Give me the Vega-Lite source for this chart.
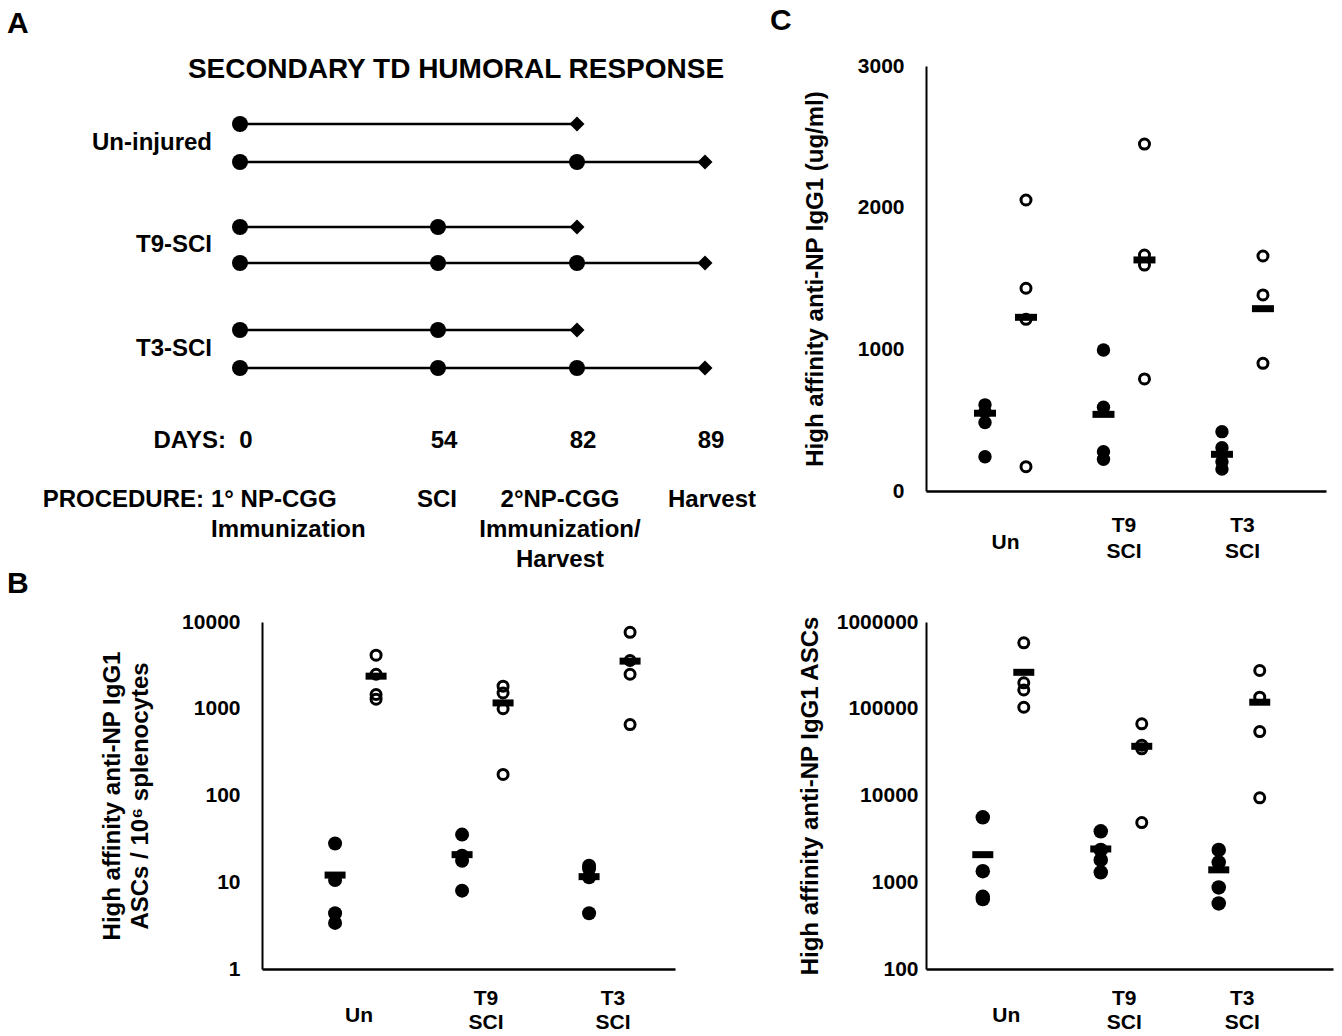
{
  "$schema": "https://vega.github.io/schema/vega-lite/v6.json",
  "background": "white",
  "padding": {"left": 7, "top": 6, "right": 5, "bottom": 5},
  "columns": 2,
  "spacing": {"row": 131, "column": 251},
  "bounds": "flush",
  "align": "each",
  "config": {
    "view": {"stroke": null},
    "font": "Liberation Sans",
    "axis": {"grid": false, "ticks": false, "tickSize": 0, "domainColor": "black", "domainWidth": 2, "labelColor": "black", "labelFont": "Liberation Sans", "labelFontWeight": "bold", "labelFontSize": 21, "titleFont": "Liberation Sans", "titleFontWeight": "bold", "titleFontSize": 24, "titleColor": "black"},
    "title": {"font": "Liberation Sans", "fontWeight": "bold", "fontSize": 30, "color": "black", "anchor": "start", "frame": "group", "baseline": "top"},
    "text": {"font": "Liberation Sans", "fontWeight": "bold", "color": "black"}
  },
  "datasets": {
    "Atrack": [
      {"cohort": "Un-injured", "lane": 1, "day": 0, "event": "1° immunization"},
      {"cohort": "Un-injured", "lane": 1, "day": 82, "event": "Harvest"},
      {"cohort": "Un-injured", "lane": 2, "day": 0, "event": "1° immunization"},
      {"cohort": "Un-injured", "lane": 2, "day": 82, "event": "2° immunization"},
      {"cohort": "Un-injured", "lane": 2, "day": 89, "event": "Harvest"},
      {"cohort": "T9-SCI", "lane": 3, "day": 0, "event": "1° immunization"},
      {"cohort": "T9-SCI", "lane": 3, "day": 54, "event": "SCI"},
      {"cohort": "T9-SCI", "lane": 3, "day": 82, "event": "Harvest"},
      {"cohort": "T9-SCI", "lane": 4, "day": 0, "event": "1° immunization"},
      {"cohort": "T9-SCI", "lane": 4, "day": 54, "event": "SCI"},
      {"cohort": "T9-SCI", "lane": 4, "day": 82, "event": "2° immunization"},
      {"cohort": "T9-SCI", "lane": 4, "day": 89, "event": "Harvest"},
      {"cohort": "T3-SCI", "lane": 5, "day": 0, "event": "1° immunization"},
      {"cohort": "T3-SCI", "lane": 5, "day": 54, "event": "SCI"},
      {"cohort": "T3-SCI", "lane": 5, "day": 82, "event": "Harvest"},
      {"cohort": "T3-SCI", "lane": 6, "day": 0, "event": "1° immunization"},
      {"cohort": "T3-SCI", "lane": 6, "day": 54, "event": "SCI"},
      {"cohort": "T3-SCI", "lane": 6, "day": 82, "event": "2° immunization"},
      {"cohort": "T3-SCI", "lane": 6, "day": 89, "event": "Harvest"}
    ],
    "Atext": [
      {"role": "heading", "text": "SECONDARY TD HUMORAL RESPONSE", "day": 54, "lane": 0},
      {"role": "cohort", "text": "Un-injured", "day": 0, "lane": 1.5},
      {"role": "cohort", "text": "T9-SCI", "day": 0, "lane": 3.5},
      {"role": "cohort", "text": "T3-SCI", "day": 0, "lane": 5.5},
      {"role": "daysTitle", "text": "DAYS:", "day": 0, "lane": 7},
      {"role": "day", "text": "0", "day": 0, "lane": 7},
      {"role": "day", "text": "54", "day": 54, "lane": 7},
      {"role": "day", "text": "82", "day": 82, "lane": 7},
      {"role": "day", "text": "89", "day": 89, "lane": 7},
      {"role": "procTitle", "text": "PROCEDURE:", "day": 0, "lane": 8},
      {"role": "procLeft", "text": "1° NP-CGG\nImmunization", "day": 0, "lane": 8},
      {"role": "procMid", "text": "SCI", "day": 54, "lane": 8},
      {"role": "procBoost", "text": "2°NP-CGG\nImmunization/\nHarvest", "day": 82, "lane": 8},
      {"role": "procEnd", "text": "Harvest", "day": 89, "lane": 8}
    ],
    "Bdata": [
      {"group": "Un", "boost": "pre", "kind": "point", "value": 28},
      {"group": "Un", "boost": "pre", "kind": "point", "value": 10.6},
      {"group": "Un", "boost": "pre", "kind": "point", "value": 4.4},
      {"group": "Un", "boost": "pre", "kind": "point", "value": 3.4},
      {"group": "Un", "boost": "pre", "kind": "mean", "value": 12.1},
      {"group": "Un", "boost": "post", "kind": "point", "value": 4150},
      {"group": "Un", "boost": "post", "kind": "point", "value": 2500},
      {"group": "Un", "boost": "post", "kind": "point", "value": 1460},
      {"group": "Un", "boost": "post", "kind": "point", "value": 1290},
      {"group": "Un", "boost": "post", "kind": "mean", "value": 2375},
      {"group": "T9 SCI", "boost": "pre", "kind": "point", "value": 35.4},
      {"group": "T9 SCI", "boost": "pre", "kind": "point", "value": 20.2},
      {"group": "T9 SCI", "boost": "pre", "kind": "point", "value": 17.7},
      {"group": "T9 SCI", "boost": "pre", "kind": "point", "value": 8.0},
      {"group": "T9 SCI", "boost": "pre", "kind": "mean", "value": 20.8},
      {"group": "T9 SCI", "boost": "post", "kind": "point", "value": 1820},
      {"group": "T9 SCI", "boost": "post", "kind": "point", "value": 1520},
      {"group": "T9 SCI", "boost": "post", "kind": "point", "value": 1000},
      {"group": "T9 SCI", "boost": "post", "kind": "point", "value": 175},
      {"group": "T9 SCI", "boost": "post", "kind": "mean", "value": 1167},
      {"group": "T3 SCI", "boost": "pre", "kind": "point", "value": 15.5},
      {"group": "T3 SCI", "boost": "pre", "kind": "point", "value": 14.3},
      {"group": "T3 SCI", "boost": "pre", "kind": "point", "value": 11.4},
      {"group": "T3 SCI", "boost": "pre", "kind": "point", "value": 4.4},
      {"group": "T3 SCI", "boost": "pre", "kind": "mean", "value": 11.6},
      {"group": "T3 SCI", "boost": "post", "kind": "point", "value": 7600},
      {"group": "T3 SCI", "boost": "post", "kind": "point", "value": 3600},
      {"group": "T3 SCI", "boost": "post", "kind": "point", "value": 2500},
      {"group": "T3 SCI", "boost": "post", "kind": "point", "value": 657},
      {"group": "T3 SCI", "boost": "post", "kind": "mean", "value": 3540}
    ],
    "CTdata": [
      {"group": "Un", "boost": "pre", "kind": "point", "value": 608},
      {"group": "Un", "boost": "pre", "kind": "point", "value": 560},
      {"group": "Un", "boost": "pre", "kind": "point", "value": 483},
      {"group": "Un", "boost": "pre", "kind": "point", "value": 242},
      {"group": "Un", "boost": "pre", "kind": "mean", "value": 549},
      {"group": "Un", "boost": "post", "kind": "point", "value": 2054},
      {"group": "Un", "boost": "post", "kind": "point", "value": 1431},
      {"group": "Un", "boost": "post", "kind": "point", "value": 1212},
      {"group": "Un", "boost": "post", "kind": "point", "value": 172},
      {"group": "Un", "boost": "post", "kind": "mean", "value": 1226},
      {"group": "T9 SCI", "boost": "pre", "kind": "point", "value": 995},
      {"group": "T9 SCI", "boost": "pre", "kind": "point", "value": 591},
      {"group": "T9 SCI", "boost": "pre", "kind": "point", "value": 277},
      {"group": "T9 SCI", "boost": "pre", "kind": "point", "value": 224},
      {"group": "T9 SCI", "boost": "pre", "kind": "mean", "value": 541},
      {"group": "T9 SCI", "boost": "post", "kind": "point", "value": 2449},
      {"group": "T9 SCI", "boost": "post", "kind": "point", "value": 1666},
      {"group": "T9 SCI", "boost": "post", "kind": "point", "value": 1595},
      {"group": "T9 SCI", "boost": "post", "kind": "point", "value": 791},
      {"group": "T9 SCI", "boost": "post", "kind": "mean", "value": 1631},
      {"group": "T3 SCI", "boost": "pre", "kind": "point", "value": 419},
      {"group": "T3 SCI", "boost": "pre", "kind": "point", "value": 306},
      {"group": "T3 SCI", "boost": "pre", "kind": "point", "value": 207},
      {"group": "T3 SCI", "boost": "pre", "kind": "point", "value": 155},
      {"group": "T3 SCI", "boost": "pre", "kind": "mean", "value": 259},
      {"group": "T3 SCI", "boost": "post", "kind": "point", "value": 1659},
      {"group": "T3 SCI", "boost": "post", "kind": "point", "value": 1384},
      {"group": "T3 SCI", "boost": "post", "kind": "point", "value": 901},
      {"group": "T3 SCI", "boost": "post", "kind": "mean", "value": 1287}
    ],
    "CBdata": [
      {"group": "Un", "boost": "pre", "kind": "point", "value": 5610},
      {"group": "Un", "boost": "pre", "kind": "point", "value": 1340},
      {"group": "Un", "boost": "pre", "kind": "point", "value": 680},
      {"group": "Un", "boost": "pre", "kind": "point", "value": 640},
      {"group": "Un", "boost": "pre", "kind": "mean", "value": 2080},
      {"group": "Un", "boost": "post", "kind": "point", "value": 575000},
      {"group": "Un", "boost": "post", "kind": "point", "value": 199000},
      {"group": "Un", "boost": "post", "kind": "point", "value": 165000},
      {"group": "Un", "boost": "post", "kind": "point", "value": 104000},
      {"group": "Un", "boost": "post", "kind": "mean", "value": 263000},
      {"group": "T9 SCI", "boost": "pre", "kind": "point", "value": 3860},
      {"group": "T9 SCI", "boost": "pre", "kind": "point", "value": 2360},
      {"group": "T9 SCI", "boost": "pre", "kind": "point", "value": 1810},
      {"group": "T9 SCI", "boost": "pre", "kind": "point", "value": 1300},
      {"group": "T9 SCI", "boost": "pre", "kind": "mean", "value": 2420},
      {"group": "T9 SCI", "boost": "post", "kind": "point", "value": 67000},
      {"group": "T9 SCI", "boost": "post", "kind": "point", "value": 38000},
      {"group": "T9 SCI", "boost": "post", "kind": "point", "value": 34500},
      {"group": "T9 SCI", "boost": "post", "kind": "point", "value": 4870},
      {"group": "T9 SCI", "boost": "post", "kind": "mean", "value": 36900},
      {"group": "T3 SCI", "boost": "pre", "kind": "point", "value": 2360},
      {"group": "T3 SCI", "boost": "pre", "kind": "point", "value": 1700},
      {"group": "T3 SCI", "boost": "pre", "kind": "point", "value": 870},
      {"group": "T3 SCI", "boost": "pre", "kind": "point", "value": 570},
      {"group": "T3 SCI", "boost": "pre", "kind": "mean", "value": 1390},
      {"group": "T3 SCI", "boost": "post", "kind": "point", "value": 276000},
      {"group": "T3 SCI", "boost": "post", "kind": "point", "value": 136000},
      {"group": "T3 SCI", "boost": "post", "kind": "point", "value": 54600},
      {"group": "T3 SCI", "boost": "post", "kind": "point", "value": 9400},
      {"group": "T3 SCI", "boost": "post", "kind": "mean", "value": 119000}
    ]
  },
  "concat": [
    {
      "width": 386,
      "height": 425,
      "title": {"text": "A", "dx": -255, "offset": 17},
      "encoding": {
        "x": {"field": "day", "type": "quantitative", "scale": {"domain": [0, 54, 82, 89], "range": [-22, 176, 315, 443], "zero": false, "nice": false}, "axis": null},
        "y": {"field": "lane", "type": "quantitative", "scale": {"domain": [0, 1, 2, 3, 4, 5, 6, 7, 8], "range": [12, 58, 96, 161, 197, 264, 302, 382, 441], "zero": false, "nice": false}, "axis": null}
      },
      "layer": [
        {"data": {"name": "Atrack"}, "mark": {"type": "line", "color": "black", "strokeWidth": 2.5}, "encoding": {"detail": {"field": "lane", "type": "nominal"}}},
        {"data": {"name": "Atrack"}, "transform": [{"filter": "datum.event !== 'Harvest'"}], "mark": {"type": "point", "shape": "circle", "filled": true, "color": "black", "opacity": 1, "size": 256}},
        {"data": {"name": "Atrack"}, "transform": [{"filter": "datum.event === 'Harvest'"}], "mark": {"type": "point", "shape": "diamond", "filled": true, "color": "black", "opacity": 1, "size": 225}},
        {"data": {"name": "Atext"}, "transform": [{"filter": "datum.role === 'heading'"}], "mark": {"type": "text", "fontSize": 28, "align": "center", "baseline": "alphabetic", "dx": 18}, "encoding": {"text": {"field": "text"}}},
        {"data": {"name": "Atext"}, "transform": [{"filter": "datum.role === 'cohort'"}], "mark": {"type": "text", "fontSize": 24, "align": "right", "baseline": "middle", "dx": -28}, "encoding": {"text": {"field": "text"}}},
        {"data": {"name": "Atext"}, "transform": [{"filter": "datum.role === 'daysTitle'"}], "mark": {"type": "text", "fontSize": 24, "align": "right", "baseline": "alphabetic", "dx": -14}, "encoding": {"text": {"field": "text"}}},
        {"data": {"name": "Atext"}, "transform": [{"filter": "datum.role === 'day'"}], "mark": {"type": "text", "fontSize": 24, "align": "center", "baseline": "alphabetic", "dx": 6}, "encoding": {"text": {"field": "text"}}},
        {"data": {"name": "Atext"}, "transform": [{"filter": "datum.role === 'procTitle'"}], "mark": {"type": "text", "fontSize": 24, "align": "right", "baseline": "alphabetic", "dx": -36}, "encoding": {"text": {"field": "text"}}},
        {"data": {"name": "Atext"}, "transform": [{"filter": "datum.role === 'procLeft'"}], "mark": {"type": "text", "fontSize": 24, "align": "left", "baseline": "alphabetic", "dx": -29, "lineBreak": "\n", "lineHeight": 30}, "encoding": {"text": {"field": "text"}}},
        {"data": {"name": "Atext"}, "transform": [{"filter": "datum.role === 'procMid'"}], "mark": {"type": "text", "fontSize": 24, "align": "center", "baseline": "alphabetic", "dx": -1}, "encoding": {"text": {"field": "text"}}},
        {"data": {"name": "Atext"}, "transform": [{"filter": "datum.role === 'procBoost'"}], "mark": {"type": "text", "fontSize": 24, "align": "center", "baseline": "alphabetic", "dx": -17, "lineBreak": "\n", "lineHeight": 30}, "encoding": {"text": {"field": "text"}}},
        {"data": {"name": "Atext"}, "transform": [{"filter": "datum.role === 'procEnd'"}], "mark": {"type": "text", "fontSize": 24, "align": "center", "baseline": "alphabetic", "dx": 7}, "encoding": {"text": {"field": "text"}}}
      ]
    },
    {
      "width": 400,
      "height": 425,
      "title": {"text": "C", "dx": -156, "offset": 19},
      "data": {"name": "CTdata"},
      "encoding": {
        "x": {"field": "group", "type": "nominal", "sort": ["Un", "T9 SCI", "T3 SCI"], "scale": {"type": "band", "paddingInner": 0.308, "paddingOuter": 0.342, "align": 0.475}, "axis": {"title": null, "labelAngle": 0, "labelExpr": "split(datum.label, ' ')", "labelBaseline": {"condition": {"test": "datum.value === 'Un'", "value": "top"}, "value": "alphabetic"}, "labelPadding": 40, "labelLineHeight": 26, "labelOverlap": false, "domainWidth": 2.5}},
        "xOffset": {"field": "boost", "type": "nominal", "sort": ["pre", "post"], "scale": {"domain": ["pre", "post"], "range": [0, 82], "paddingInner": 0, "paddingOuter": 0}},
        "y": {"field": "value", "type": "quantitative", "scale": {"domain": [0, 3000], "nice": false}, "axis": {"title": "High affinity  anti-NP IgG1 (ug/ml)", "values": [0, 1000, 2000, 3000], "format": "d", "labelPadding": 22, "titlePadding": 30}}
      },
      "layer": [
        {"transform": [{"filter": "datum.kind === 'point' && datum.boost === 'pre'"}], "mark": {"type": "point", "shape": "circle", "filled": true, "color": "black", "opacity": 1, "size": 180}},
        {"transform": [{"filter": "datum.kind === 'point' && datum.boost === 'post'"}], "mark": {"type": "point", "shape": "circle", "filled": false, "color": "black", "opacity": 1, "strokeWidth": 3, "size": 100}},
        {"transform": [{"filter": "datum.kind === 'mean'"}], "mark": {"type": "tick", "color": "black", "opacity": 1, "thickness": 7, "size": 22}}
      ]
    },
    {
      "width": 413,
      "height": 347,
      "title": {"text": "B", "dx": -255, "offset": 12},
      "data": {"name": "Bdata"},
      "encoding": {
        "x": {"field": "group", "type": "nominal", "sort": ["Un", "T9 SCI", "T3 SCI"], "scale": {"type": "band", "paddingInner": 0.3, "paddingOuter": 0.276, "align": 0.75}, "axis": {"title": null, "labelAngle": 0, "labelExpr": "split(datum.label, ' ')", "labelBaseline": {"condition": {"test": "datum.value === 'Un'", "value": "top"}, "value": "alphabetic"}, "labelPadding": 35, "labelLineHeight": 24, "labelOverlap": false, "domainWidth": 2.5}},
        "xOffset": {"field": "boost", "type": "nominal", "sort": ["pre", "post"], "scale": {"domain": ["pre", "post"], "range": [0, 90], "paddingInner": 0, "paddingOuter": 0}},
        "y": {"field": "value", "type": "quantitative", "scale": {"type": "log", "domain": [1, 10000], "nice": false}, "axis": {"title": ["High affinity anti-NP IgG1", "ASCs / 10⁶ splenocytes"], "values": [1, 10, 100, 1000, 10000], "format": "d", "labelPadding": 22, "titlePadding": 29, "titleLineHeight": 28}}
      },
      "layer": [
        {"transform": [{"filter": "datum.kind === 'point' && datum.boost === 'pre'"}], "mark": {"type": "point", "shape": "circle", "filled": true, "color": "black", "opacity": 1, "size": 196}},
        {"transform": [{"filter": "datum.kind === 'point' && datum.boost === 'post'"}], "mark": {"type": "point", "shape": "circle", "filled": false, "color": "black", "opacity": 1, "strokeWidth": 3, "size": 100}},
        {"transform": [{"filter": "datum.kind === 'mean'"}], "mark": {"type": "tick", "color": "black", "opacity": 1, "thickness": 7, "size": 21}}
      ]
    },
    {
      "width": 407,
      "height": 347,
      "data": {"name": "CBdata"},
      "encoding": {
        "x": {"field": "group", "type": "nominal", "sort": ["Un", "T9 SCI", "T3 SCI"], "scale": {"type": "band", "paddingInner": 0.254, "paddingOuter": 0.352, "align": 0.437}, "axis": {"title": null, "labelAngle": 0, "labelExpr": "split(datum.label, ' ')", "labelBaseline": {"condition": {"test": "datum.value === 'Un'", "value": "top"}, "value": "alphabetic"}, "labelPadding": 35, "labelLineHeight": 24, "labelOverlap": false, "domainWidth": 2.5}},
        "xOffset": {"field": "boost", "type": "nominal", "sort": ["pre", "post"], "scale": {"domain": ["pre", "post"], "range": [0, 87], "paddingInner": 0, "paddingOuter": 0}},
        "y": {"field": "value", "type": "quantitative", "scale": {"type": "log", "domain": [100, 1000000], "nice": false}, "axis": {"title": "High affinity anti-NP IgG1 ASCs", "values": [100, 1000, 10000, 100000, 1000000], "format": "d", "labelPadding": 8, "titlePadding": 14}}
      },
      "layer": [
        {"transform": [{"filter": "datum.kind === 'point' && datum.boost === 'pre'"}], "mark": {"type": "point", "shape": "circle", "filled": true, "color": "black", "opacity": 1, "size": 210}},
        {"transform": [{"filter": "datum.kind === 'point' && datum.boost === 'post'"}], "mark": {"type": "point", "shape": "circle", "filled": false, "color": "black", "opacity": 1, "strokeWidth": 3, "size": 100}},
        {"transform": [{"filter": "datum.kind === 'mean'"}], "mark": {"type": "tick", "color": "black", "opacity": 1, "thickness": 7, "size": 21}}
      ]
    }
  ]
}
